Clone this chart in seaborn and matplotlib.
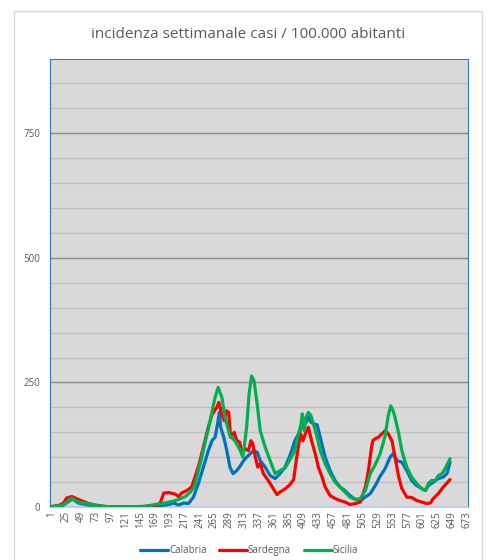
import matplotlib.pyplot as plt
import matplotlib.patches as mpatches
import numpy as np
import pandas as pd
import seaborn as sns

# values (day index, weekly incidence per 100k)
CAL_DAYS = [1, 20, 28, 35, 45, 61, 80, 100, 150, 180, 191, 199, 207, 215, 223, 231, 239, 247, 255, 261,
            266, 270, 273, 275, 280, 285, 290, 295, 301, 307, 312, 317, 323, 328, 334, 339, 347, 355, 363, 371,
            379, 387, 395, 401, 406, 412, 417, 421, 425, 431, 436, 444, 452, 460, 468, 476, 484, 493, 501, 509,
            517, 525, 533, 541, 549, 554, 560, 568, 576, 584, 592, 600, 606, 611, 619, 627, 635, 641, 646]
CAL_VALS = [0, 3, 10, 16, 8, 4, 1, 0, 1, 3, 5, 8, 4, 8, 7, 20, 47, 80, 113, 133,
            140, 167, 190, 160, 140, 113, 80, 67, 73, 83, 93, 100, 107, 113, 110, 93, 80, 63, 57, 67,
            80, 103, 133, 147, 160, 167, 180, 170, 167, 165, 140, 100, 73, 53, 40, 33, 23, 15, 13, 20,
            27, 43, 62, 77, 100, 107, 93, 90, 73, 53, 43, 37, 33, 43, 50, 57, 60, 67, 90]

SAR_DAYS = [1, 13, 21, 26, 34, 40, 45, 53, 61, 72, 88, 100, 150, 169, 177, 183, 191, 201, 207, 212,
            220, 228, 234, 240, 247, 255, 261, 266, 269, 272, 275, 277, 281, 284, 288, 291, 297, 301, 306, 309,
            315, 320, 324, 327, 331, 335, 339, 344, 352, 360, 366, 371, 380, 387, 393, 398, 404, 408, 412, 417,
            422, 428, 433, 439, 444, 452, 460, 468, 476, 484, 493, 501, 509, 514, 519, 521, 525, 530, 536, 541,
            546, 552, 557, 563, 568, 576, 584, 592, 600, 608, 614, 619, 627, 635, 646]
SAR_VALS = [1, 3, 8, 18, 21, 18, 15, 11, 7, 4, 1, 0, 1, 3, 7, 28, 29, 26, 21, 28,
            33, 40, 62, 85, 120, 160, 185, 195, 200, 210, 195, 187, 173, 193, 190, 140, 150, 133, 130, 107,
            117, 113, 133, 127, 100, 80, 87, 67, 53, 37, 25, 30, 37, 45, 55, 100, 147, 133, 147, 160,
            133, 107, 80, 60, 40, 23, 17, 13, 10, 5, 7, 10, 40, 73, 120, 133, 137, 140, 147, 153,
            147, 133, 100, 60, 37, 20, 19, 13, 10, 7, 8, 17, 27, 40, 55]

SIC_DAYS = [1, 18, 26, 34, 40, 48, 59, 72, 99, 153, 169, 185, 196, 207, 218, 226, 232, 242, 250, 258, 266,
            271, 277, 282, 290, 298, 307, 311, 317, 321, 325, 329, 334, 339, 347, 355, 363, 371, 379, 387, 395,
            401, 405, 407, 410, 413, 417, 421, 425, 431, 436, 444, 452, 460, 468, 476, 484, 493, 501, 509, 517,
            525, 533, 541, 546, 550, 554, 557, 563, 568, 576, 584, 592, 600, 606, 611, 616, 622, 627, 633, 638,
            646]
SIC_VALS = [0, 3, 9, 18, 13, 9, 7, 3, 0, 1, 5, 8, 11, 15, 21, 30, 40, 87, 130, 173, 220,
            240, 220, 180, 143, 133, 113, 100, 160, 227, 263, 253, 207, 153, 120, 93, 67, 73, 78, 95, 113,
            147, 167, 187, 153, 180, 190, 183, 167, 140, 113, 87, 67, 50, 40, 30, 20, 15, 17, 33, 67,
            85, 107, 143, 183, 203, 193, 180, 147, 113, 80, 60, 47, 37, 33, 47, 53, 53, 63, 67, 77,
            97]

REGIONS = ["Calabria", "Sardegna", "Sicilia"]
COLORS = ["#0070C0", "#FF0000", "#00B050"]
X_TICKS = list(range(1, 674, 24))
Y_TICKS = [0, 250, 500, 750]

df = pd.concat([
    pd.DataFrame({"giorno": CAL_DAYS, "incidenza": CAL_VALS, "regione": "Calabria"}),
    pd.DataFrame({"giorno": SAR_DAYS, "incidenza": SAR_VALS, "regione": "Sardegna"}),
    pd.DataFrame({"giorno": SIC_DAYS, "incidenza": SIC_VALS, "regione": "Sicilia"}),
])

sns.set_style("white")
plt.rcParams['font.family'] = ['Open Sans', 'DejaVu Sans']

fig = plt.figure(figsize=(4.87, 5.60), dpi=100)
# outer chart frame (Excel style)
fig.patches.append(mpatches.Rectangle((14 / 487, -0.05), 468 / 487, 1.05 - 11 / 560,
                                      transform=fig.transFigure, fill=False,
                                      edgecolor="#D9D9D9", linewidth=1.0))
ax = fig.add_axes([50 / 487, 1 - 507 / 560, 418 / 487, 448.5 / 560])
ax.set_facecolor("#D9D9D9")

for y in range(50, 900, 50):
    if y % 250 == 0:
        ax.axhline(y, color="#898989", linewidth=1.0, zorder=1)
    else:
        ax.axhline(y, color="#C0C0C0", linewidth=1.0, zorder=1)

sns.lineplot(data=df, x="giorno", y="incidenza", hue="regione", hue_order=REGIONS,
             palette=COLORS, estimator=None, linewidth=2.3, ax=ax, zorder=3)

ax.set_xlim(-1, 675)
ax.set_ylim(0, 900)
ax.set_xticks(X_TICKS)
ax.set_xticklabels([str(t) for t in X_TICKS], rotation=90, fontsize=7, color="#595959")
ax.set_yticks(Y_TICKS)
ax.set_yticklabels([str(t) for t in Y_TICKS], fontsize=7, color="#595959")
ax.tick_params(axis="x", length=0, pad=3)
ax.tick_params(axis="y", length=0, pad=7)
ax.set_xlabel("")
ax.set_ylabel("")

for side in ["left", "right", "top"]:
    ax.spines[side].set_color("#2E7BC4")
    ax.spines[side].set_linewidth(0.8)
ax.spines["bottom"].set_color("#B4C7E7")
ax.spines["bottom"].set_linewidth(1.2)

fig.text(248 / 487, 1 - 35 / 560, "incidenza settimanale casi / 100.000 abitanti",
         ha="center", va="center", fontsize=11, color="#595959")

ax.legend(title=None, loc="center", bbox_to_anchor=(249 / 487, 9.5 / 560), bbox_transform=fig.transFigure,
          ncol=3, frameon=False, fontsize=7, handlelength=2.9, handletextpad=0.05,
          columnspacing=1.3, labelcolor="#595959")

fig.savefig("out.png", dpi=100)
